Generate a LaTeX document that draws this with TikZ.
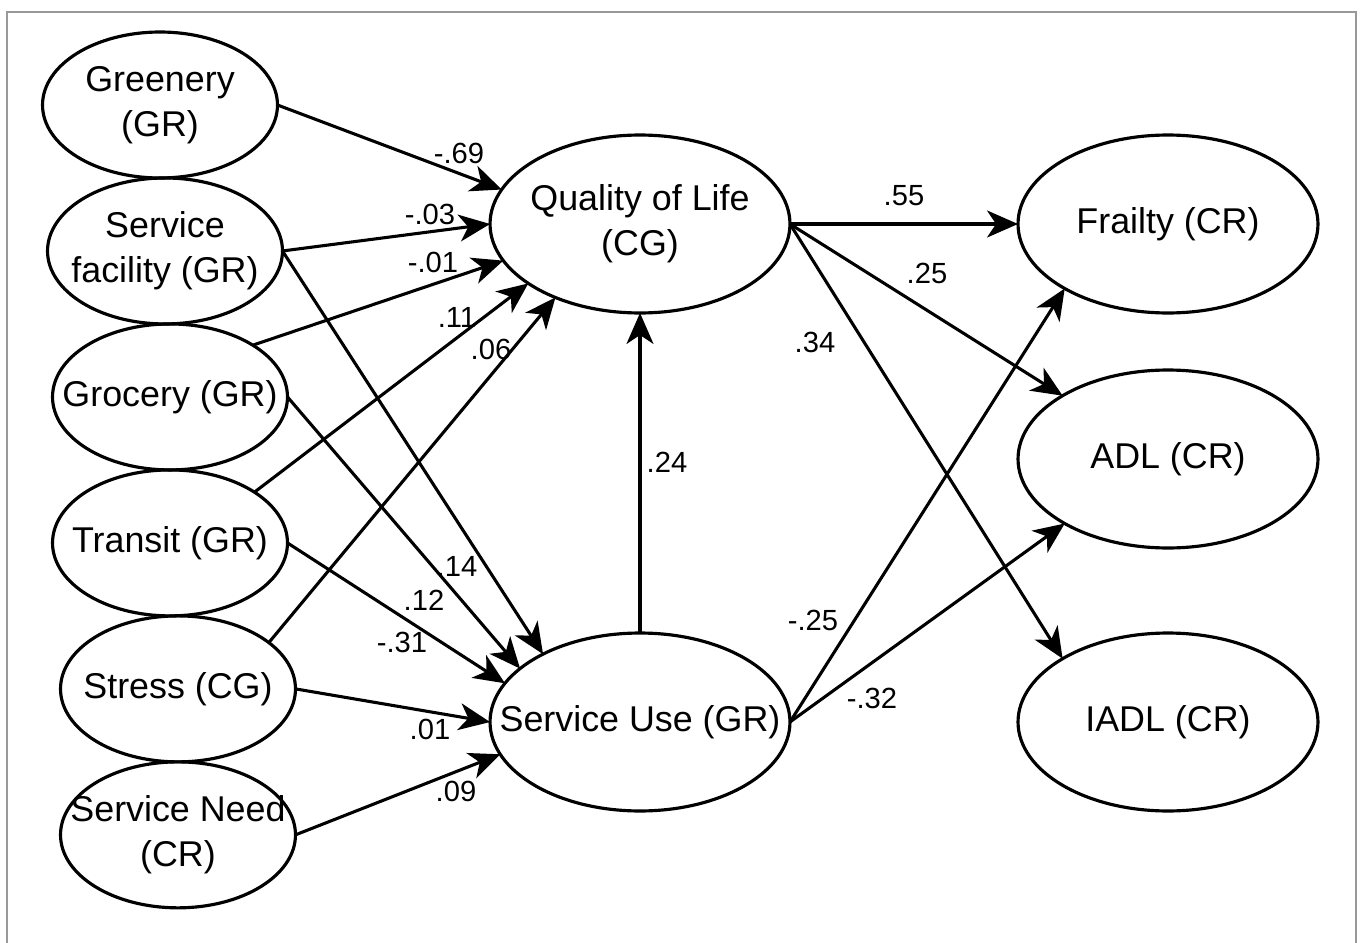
\documentclass[tikz,border=0pt]{standalone}
\usepackage{fontspec}
\setmainfont{Liberation Sans}
\usetikzlibrary{arrows.meta,%
                shapes,positioning}

\begin{document}
\begin{tikzpicture}[x=0.02cm, y=-0.02cm]
  \tikzset{VertexStyle/.style = {shape          = ellipse,
                                 draw           = black,
                                 line width     = 1.8pt,
                                 text           = black,
                                 align          = center,
                                 inner xsep     = -3cm,
                                 inner ysep     = -2cm,
                                 outer sep      = 0pt,
                                 font           = \fontsize{20.4}{25.5}\selectfont}}
  \tikzset{SmallVertex/.style = {VertexStyle, minimum width = 4.70cm, minimum height = 2.92cm},
           BigVertex/.style   = {VertexStyle, minimum width = 6.00cm, minimum height = 3.56cm},
           EdgeStyle/.style   = {line width = 1.75pt, -{Stealth[length=0.62cm, width=0.54cm, inset=0.18cm]}},
           WeightStyle/.style = {inner sep = 0pt, font = \fontsize{16.6}{19}\selectfont}}
	\useasboundingbox (0,0) rectangle (1360,943);
	\draw[gray!80, line width=0.8pt] (7,943) -- (7,12) -- (1356,12) -- (1356,943);
	%%% LEFT COLUMN %%%
	\tikzset{node distance = 0pt}
	\node[SmallVertex] (gr) at (160,105) {Greenery\\(GR)};
	\node[SmallVertex, below=of gr, xshift=0.1cm] (sf) {Service\\facility (GR)};
	\node[SmallVertex, below=of sf, xshift=0.1cm] (gro) {Grocery (GR)};
	\node[SmallVertex, below=of gro] (tr) {Transit (GR)};
	\node[SmallVertex, below=of tr, xshift=0.16cm] (st) {Stress (CG)};
	\node[SmallVertex, below=of st] (sn) {Service Need\\(CR)};
	%%% MIDDLE %%%
	\node[BigVertex] (qol) at (640,224) {Quality of Life\\(CG)};
	\node[BigVertex] (su) at (640,722) {Service Use (GR)};
	%%% RIGHT COLUMN %%%
	\node[BigVertex] (fr) at (1168,224) {Frailty (CR)};
	\node[BigVertex] (adl) at (1168,459) {ADL (CR)};
	\node[BigVertex] (iadl) at (1168,722) {IADL (CR)};
	%%% ARROWS %%%
	\draw[EdgeStyle] (gr.east) to (qol.166);
	\draw[EdgeStyle] (sf.east) to (qol.west);
	\draw[EdgeStyle] (gro.32) to (qol.195);
	\draw[EdgeStyle] (tr.31) to (qol.208);
	\draw[EdgeStyle] (st.27) to (qol.221);
	\draw[EdgeStyle] (sf.east) to (su.145);
	\draw[EdgeStyle] (gro.east) to (su.156);
	\draw[EdgeStyle] (tr.east) to (su.164);
	\draw[EdgeStyle] (st.east) to (su.west);
	\draw[EdgeStyle] (sn.east) to (su.193);
	\draw[EdgeStyle] (su.north) to (qol.south);
	\draw[EdgeStyle] (qol.east) to (fr.west);
	\draw[EdgeStyle] (qol.east) to (adl.149);
	\draw[EdgeStyle] (qol.east) to (iadl.149);
	\draw[EdgeStyle] (su.east) to (fr.212);
	\draw[EdgeStyle] (su.east) to (adl.212);
	%%% WEIGHTS %%%
	\node[WeightStyle] (w1) at (459,153) {-.69};
	\node[WeightStyle] (w2) at (430,214) {-.03};
	\node[WeightStyle] (w3) at (433,262) {-.01};
	\node[WeightStyle] (w4) at (457,317) {.11};
	\node[WeightStyle] (w5) at (491,349) {.06};
	\node[WeightStyle] (w6) at (457,566) {.14};
	\node[WeightStyle] (w7) at (424,600) {.12};
	\node[WeightStyle] (w8) at (402,642) {-.31};
	\node[WeightStyle] (w9) at (430,729) {.01};
	\node[WeightStyle] (w10) at (456,791) {.09};
	\node[WeightStyle] (w11) at (667,462) {.24};
	\node[WeightStyle] (w12) at (904,196) {.55};
	\node[WeightStyle] (w13) at (927,273) {.25};
	\node[WeightStyle] (w14) at (815,342) {.34};
	\node[WeightStyle] (w15) at (813,620) {-.25};
	\node[WeightStyle] (w16) at (872,698) {-.32};
\end{tikzpicture}
\end{document}
